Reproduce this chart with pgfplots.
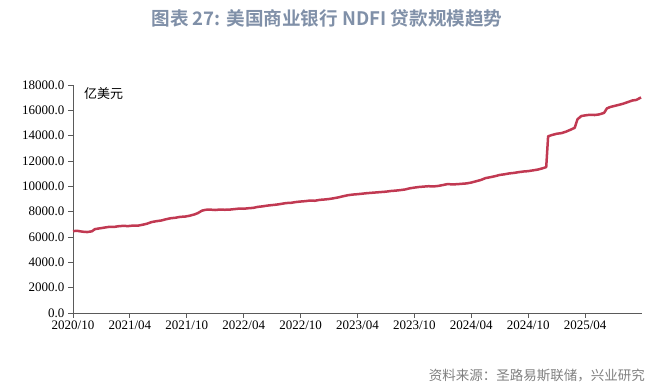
\documentclass[border=0pt]{standalone}
\usepackage{fontspec}
\usepackage{pgfplots}
\pgfplotsset{compat=1.18}
\setmainfont{Liberation Serif}
\newfontfamily\cjk{Noto Sans CJK SC}
\newfontfamily\cjkb{Noto Sans CJK SC Bold}
\definecolor{titlecol}{RGB}{128,144,168}
\definecolor{srccol}{RGB}{128,128,128}
\definecolor{linecol}{RGB}{193,57,82}
\definecolor{axcol}{RGB}{90,90,90}
\begin{document}
\begin{tikzpicture}
\path[use as bounding box] (0,0) rectangle (664bp,387bp);
\node[font=\cjkb\fontsize{18.6bp}{18.6bp}\selectfont, text=titlecol, anchor=center] at (327bp,368.5bp) {图表 27: 美国商业银行 NDFI 贷款规模趋势};
\node[font=\cjk\fontsize{13.5bp}{13.5bp}\selectfont, text=srccol, anchor=east, inner sep=0pt] at (645bp,11bp) {资料来源：圣路易斯联储，兴业研究};
\node[font=\cjk\fontsize{13bp}{13bp}\selectfont, anchor=west, inner sep=0pt] at (84bp,293bp) {亿美元};
\begin{axis}[
  at={(73bp,74bp)}, anchor=south west,
  scale only axis, width=569bp, height=228bp,
  xmin=0, xmax=60, ymin=0, ymax=18000,
  scaled y ticks=false,
  axis lines*=left,
  axis line style={axcol, line width=0.9bp},
  xtick={0,6,...,54},
  xticklabels={2020/10,2021/04,2021/10,2022/04,2022/10,2023/04,2023/10,2024/04,2024/10,2025/04},
  ytick={0,2000,...,18000},
  yticklabels={0.0,2000.0,4000.0,6000.0,8000.0,10000.0,12000.0,14000.0,16000.0,18000.0},
  tick align=outside,
  major tick length=5bp,
  tick style={axcol, line width=0.9bp},
  ticklabel style={font=\fontsize{13bp}{13bp}\selectfont, text=black},
  xticklabel style={yshift=1bp},
  clip=false,
]
\addplot[linecol, line width=2.5bp, line join=round] coordinates {
(0,6470)(0.5,6480)(1.0,6420)(1.5,6390)(2.0,6450)(2.3,6620)(2.8,6680)(3.3,6740)(3.8,6800)(4.3,6790)(4.8,6850)(5.3,6880)(5.8,6860)(6.3,6900)(6.8,6890)(7.3,6960)(7.8,7050)(8.3,7180)(8.8,7250)(9.3,7300)(9.8,7400)(10.3,7480)(10.8,7520)(11.3,7590)(11.8,7610)(12.3,7680)(12.8,7780)(13.2,7900)(13.6,8080)(14.0,8150)(14.5,8160)(15.0,8130)(15.5,8170)(16.0,8150)(16.5,8160)(17.0,8200)(17.5,8240)(18.0,8230)(18.5,8270)(19.0,8300)(19.5,8380)(20.0,8420)(20.5,8480)(21.0,8520)(21.5,8560)(22.0,8620)(22.5,8680)(23.0,8700)(23.5,8760)(24.0,8800)(24.5,8830)(25.0,8880)(25.5,8860)(26.0,8930)(26.5,8960)(27.0,9000)(27.5,9060)(28.0,9130)(28.5,9220)(29.0,9300)(29.5,9350)(30.0,9380)(30.5,9420)(31.0,9460)(31.5,9490)(32.0,9520)(32.5,9550)(33.0,9580)(33.5,9630)(34.0,9660)(34.5,9700)(35.0,9750)(35.5,9840)(36.0,9900)(36.5,9950)(37.0,9980)(37.5,10010)(38.0,9990)(38.5,10030)(39.0,10100)(39.5,10180)(40.0,10150)(40.5,10170)(41.0,10200)(41.5,10230)(42.0,10300)(42.5,10400)(43.0,10500)(43.5,10650)(44.0,10720)(44.5,10800)(45.0,10900)(45.5,10950)(46.0,11020)(46.5,11060)(47.0,11120)(47.5,11170)(48.0,11200)(48.5,11260)(49.0,11320)(49.5,11420)(49.9,11520)(50.1,13950)(50.5,14050)(51.0,14150)(51.5,14200)(52.0,14320)(52.5,14480)(52.9,14620)(53.2,15300)(53.6,15550)(54.0,15600)(54.5,15650)(55.0,15630)(55.5,15680)(56.0,15800)(56.3,16150)(56.6,16250)(57.0,16330)(57.5,16420)(58.0,16520)(58.5,16650)(59.0,16780)(59.4,16820)(59.9,17020)
};
\end{axis}
\end{tikzpicture}
\end{document}
